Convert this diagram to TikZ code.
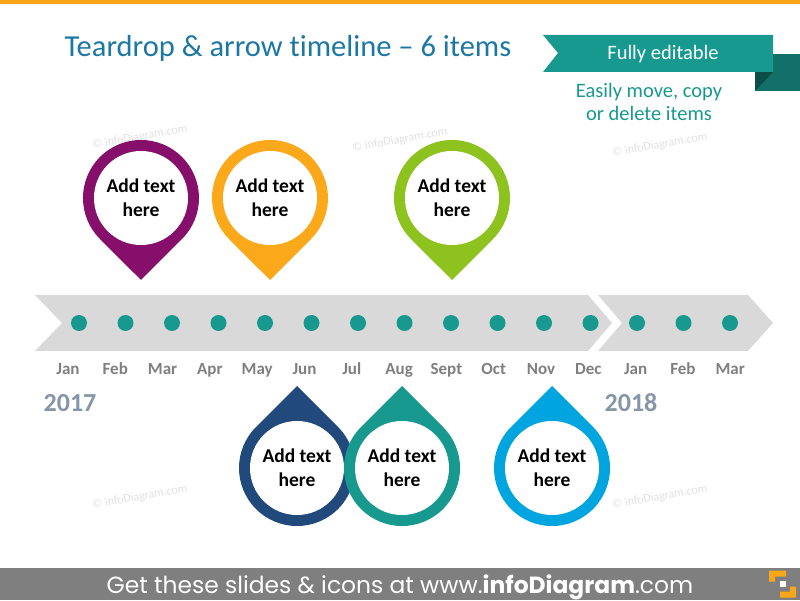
\documentclass[tikz,border=0pt]{standalone}
\usepackage{fontspec}
\setmainfont{Carlito}[Ligatures=NoCommon]
\newfontfamily\footfont{Poppins}

\definecolor{titleblue}{HTML}{1C77A5}
\definecolor{tealgreen}{HTML}{17998F}
\definecolor{ribbondark}{HTML}{137068}
\definecolor{ribbonshade}{HTML}{0D4D48}
\definecolor{dropviolet}{HTML}{850F6B}
\definecolor{droporange}{HTML}{FBA81B}
\definecolor{dropgreen}{HTML}{8DC21F}
\definecolor{dropnavy}{HTML}{21497C}
\definecolor{dropteal}{HTML}{17998F}
\definecolor{dropsky}{HTML}{00A4DE}
\definecolor{arrowgray}{HTML}{D9D9D9}
\definecolor{monthgray}{HTML}{7F7F7F}
\definecolor{yeargray}{HTML}{8796A6}
\definecolor{bargray}{HTML}{7F7F7F}
\definecolor{barorange}{HTML}{F9A61A}

\begin{document}
\begin{tikzpicture}[x=1pt,y=1pt,
  month/.style={anchor=base, text=monthgray, font=\bfseries\fontsize{17}{17}\selectfont},
  year/.style={anchor=base, text=yeargray, font=\bfseries\fontsize{26}{26}\selectfont},
  dot/.style={circle, fill=tealgreen, minimum size=16pt, inner sep=0pt},
  droptext/.style={align=center, font=\bfseries\fontsize{19.5}{24}\selectfont},
  watermark/.style={rotate=10, inner sep=1pt, text=black!12, font=\fontsize{12}{12}\selectfont}]
  \useasboundingbox (0,0) rectangle (800,600);

  % top and bottom bars
  \fill[barorange] (0,596) rectangle (800,600);
  \fill[bargray] (0,0) rectangle (800,32);
  \node[anchor=base, text=white, font=\footfont\fontsize{23.4}{23.4}\selectfont] (footer) at (400,7)
    {Get these slides \& icons at www.\textbf{infoDiagram}.com};
  \fill[barorange] (769,29.3) -- (786,29.3) -- (786,23.3) -- (775,23.3) -- (775,18.3) -- (769,18.3) -- cycle;
  \fill[barorange] (796,2.3) -- (796,13.3) -- (790,13.3) -- (790,8.3) -- (780,8.3) -- (780,2.3) -- cycle;
  \fill[white] (780,13.3) rectangle (786,19);

  \foreach \x/\y [count=\w] in {140/463, 400/460, 660/455, 140/103, 660/103}
    \node[watermark] (mark\w) at (\x,\y) {\textcopyright{} infoDiagram.com};

  \node[anchor=base west, text=titleblue, font=\fontsize{30.5}{30.5}\selectfont] (title) at (61,543)
    {Teardrop \& arrow timeline -- 6 items};

  % ribbon
  \fill[ribbondark] (755,546) rectangle (800,509);
  \fill[ribbonshade] (755,528) -- (773,528) -- (755,509) -- cycle;
  \fill[tealgreen] (543,565) -- (773,565) -- (773,528) -- (543,528) -- (558,547) -- cycle;
  \node[anchor=base, text=white, font=\fontsize{20.5}{20.5}\selectfont] (editable) at (663,540) {Fully editable};
  \node[align=center, inner sep=1pt, text=tealgreen, font=\fontsize{20.5}{23}\selectfont] (hint) at (649,498)
    {Easily move, copy\\or delete items};

  % timeline arrows
  \fill[arrowgray] (35,305) -- (588,305) -- (612,277) -- (588,249) -- (35,249) -- (62,277) -- cycle;
  \fill[arrowgray] (598,305) -- (748,305) -- (773,277) -- (748,249) -- (598,249) -- (622,277) -- cycle;

  \foreach \i in {0,...,14}
    \node[dot] (dot\i) at ({79+46.5*\i},277) {};

  \foreach \m [count=\i from 0] in {Jan,Feb,Mar,Apr,May,Jun,Jul,Aug,Sept,Oct,Nov,Dec,Jan,Feb,Mar}
    \node[month] (month\i) at ({68+47.3*\i},225) {\m};

  \node[year] (y2017) at (70,188) {2017};
  \node[year] (y2018) at (631,188) {2018};

  % teardrops
  \foreach \x/\y/\rot/\col [count=\n] in {141/402/0/dropviolet, 270/402/0/droporange, 452/402/0/dropgreen,
      297/132/180/dropnavy, 402/132/180/dropteal, 552/132/180/dropsky} {
    \begin{scope}[shift={(\x,\y)}, rotate=\rot]
      \fill[\col] (0,-82) -- (41,-41) arc[start angle=-45, end angle=225, radius=58] -- cycle;
      \fill[white] (0,0) circle[radius=47];
    \end{scope}
    \node[droptext] (drop\n) at (\x,\y) {Add text\\here};
  }
\end{tikzpicture}
\end{document}
